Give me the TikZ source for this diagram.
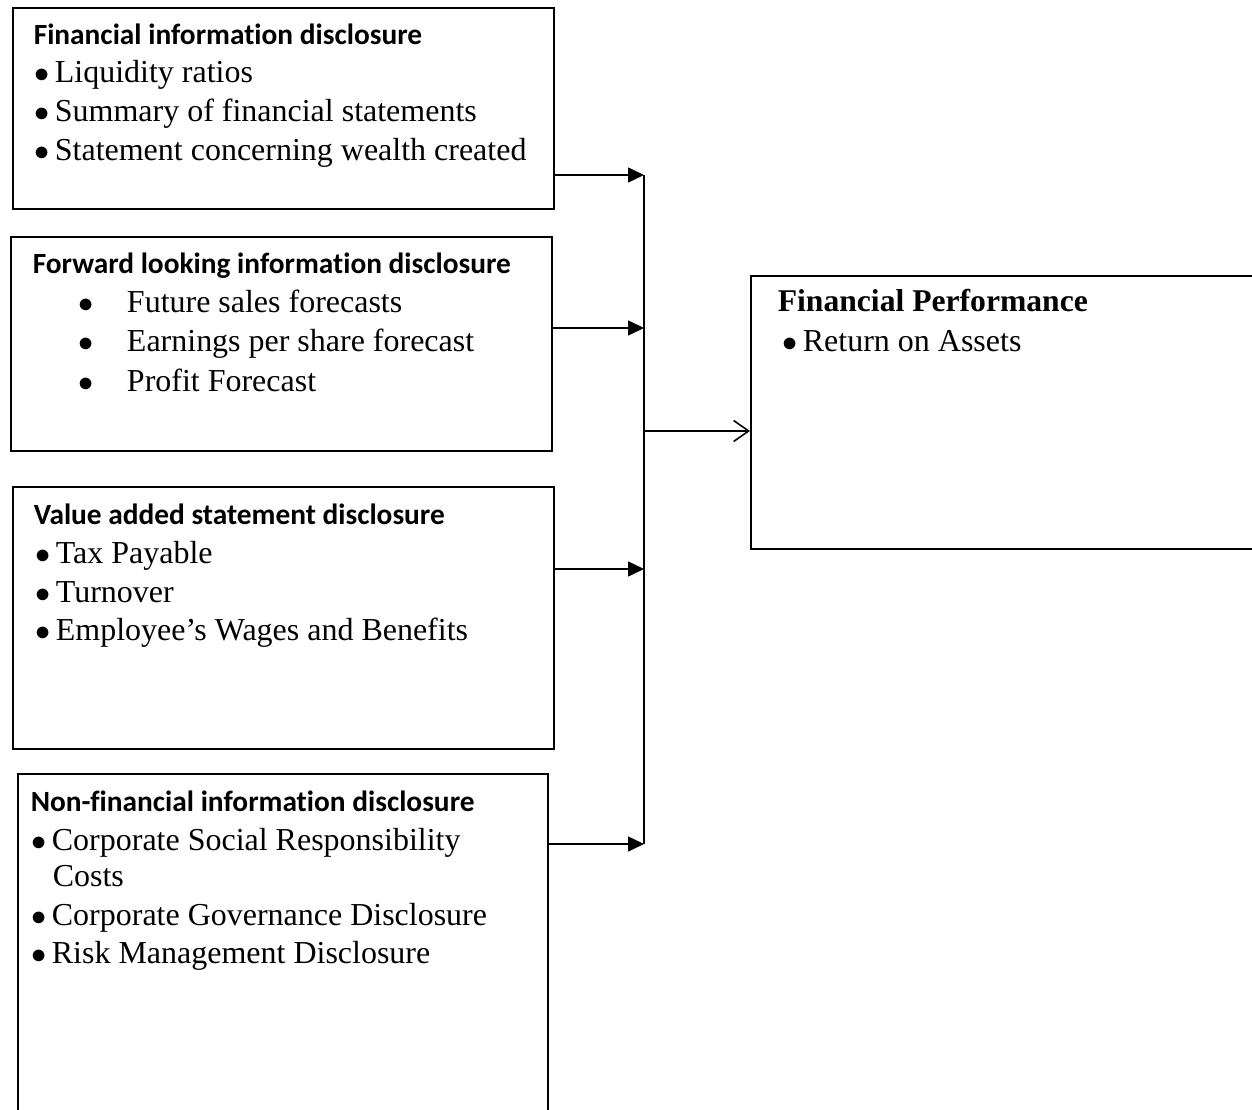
\documentclass[tikz,border=0pt]{standalone}
\usepackage{fontspec}
\setmainfont{Liberation Serif}
\newfontfamily\headfont[Ligatures = NoCommon]{Carlito}
\usepackage{tikz}
\usetikzlibrary{arrows.meta}

\newcommand{\dotitem}{$\bullet$\hspace{2.8pt}}

\begin{document}
\begin{tikzpicture}[line width = 0.9pt,
								box/.style = {rectangle, draw, fill =
								white, inner sep = 0pt, anchor = north west},
								head/.style = {anchor = base west, inner sep = 0pt,
								font = \headfont\bfseries\fontsize{16.7}{20}\selectfont},
								item/.style = {anchor = base west, inner sep = 0pt,
								font = \fontsize{18.2}{22}\selectfont},
								feed/.style = {-{Triangle[length = 0.32cm, width = 0.3cm]}},
								result/.style = {-{Straight Barb[length = 0.3cm, width = 0.42cm]}},
								]
				\path[use as bounding box, clip] (0,0) rectangle (25.04,-22.18);

				\node [box, minimum width = 10.82cm, minimum height = 4.02cm] (box_1) at (0.24,-0.14) {};
				\node [box, minimum width = 10.82cm, minimum height = 4.28cm] (box_2) at (0.2,-4.72) {};
				\node [box, minimum width = 10.82cm, minimum height = 5.24cm] (box_3) at (0.24,-9.72) {};
				\node [box, minimum width = 10.6cm, minimum height = 8cm] (box_4) at (0.34,-15.46) {};
				\node [box, minimum width = 11cm, minimum height = 5.46cm] (perf) at (15,-5.5) {};

				\node [head] (h_1) at (0.66,-0.9) {Financial information disclosure};
				\node [item] (i_11) at (0.68,-1.66) {\dotitem Liquidity ratios};
				\node [item] (i_12) at (0.68,-2.44) {\dotitem Summary of financial statements};
				\node [item] (i_13) at (0.68,-3.22) {\dotitem Statement concerning wealth created};

				\node [head] (h_2) at (0.64,-5.48) {Forward looking information disclosure};
				\node [item] (i_21) at (1.56,-6.26) {$\bullet$\hspace{0.66cm}Future sales forecasts};
				\node [item] (i_22) at (1.56,-7.04) {$\bullet$\hspace{0.66cm}Earnings per share forecast};
				\node [item] (i_23) at (1.56,-7.82) {$\bullet$\hspace{0.66cm}Profit Forecast};

				\node [head] (h_3) at (0.66,-10.48) {Value added statement disclosure};
				\node [item] (i_31) at (0.7,-11.26) {\dotitem Tax Payable};
				\node [item] (i_32) at (0.7,-12.04) {\dotitem Turnover};
				\node [item] (i_33) at (0.7,-12.8) {\dotitem Employee’s Wages and Benefits};

				\node [head] (h_4) at (0.6,-16.22) {Non-financial information disclosure};
				\node [item] (i_41) at (0.62,-17.0) {\dotitem Corporate Social Responsibility};
				\node [item] (i_42) at (1.04,-17.72) {Costs};
				\node [item] (i_43) at (0.62,-18.5) {\dotitem Corporate Governance Disclosure};
				\node [item] (i_44) at (0.62,-19.26) {\dotitem Risk Management Disclosure};

				\node [head, font = \bfseries\fontsize{18}{22}\selectfont] (h_5) at (15.54,-6.24) {Financial Performance};
				\node [item] (i_51) at (15.64,-7.04) {\dotitem Return on Assets};

				% joining line
				\coordinate (j_1) at (12.88,-3.5);
				\coordinate (j_2) at (12.88,-6.56);
				\coordinate (j_3) at (12.88,-11.38);
				\coordinate (j_4) at (12.88,-16.88);
				\coordinate (j_out) at (12.88,-8.62);
				\draw (j_1) -- (j_4);

				\draw [feed] (box_1.east |- j_1) -- (j_1);
				\draw [feed] (box_2.east |- j_2) -- (j_2);
				\draw [feed] (box_3.east |- j_3) -- (j_3);
				\draw [feed] (box_4.east |- j_4) -- (j_4);
				\draw [result] (j_out) -- (perf.west |- j_out);
			\end{tikzpicture}
\end{document}
